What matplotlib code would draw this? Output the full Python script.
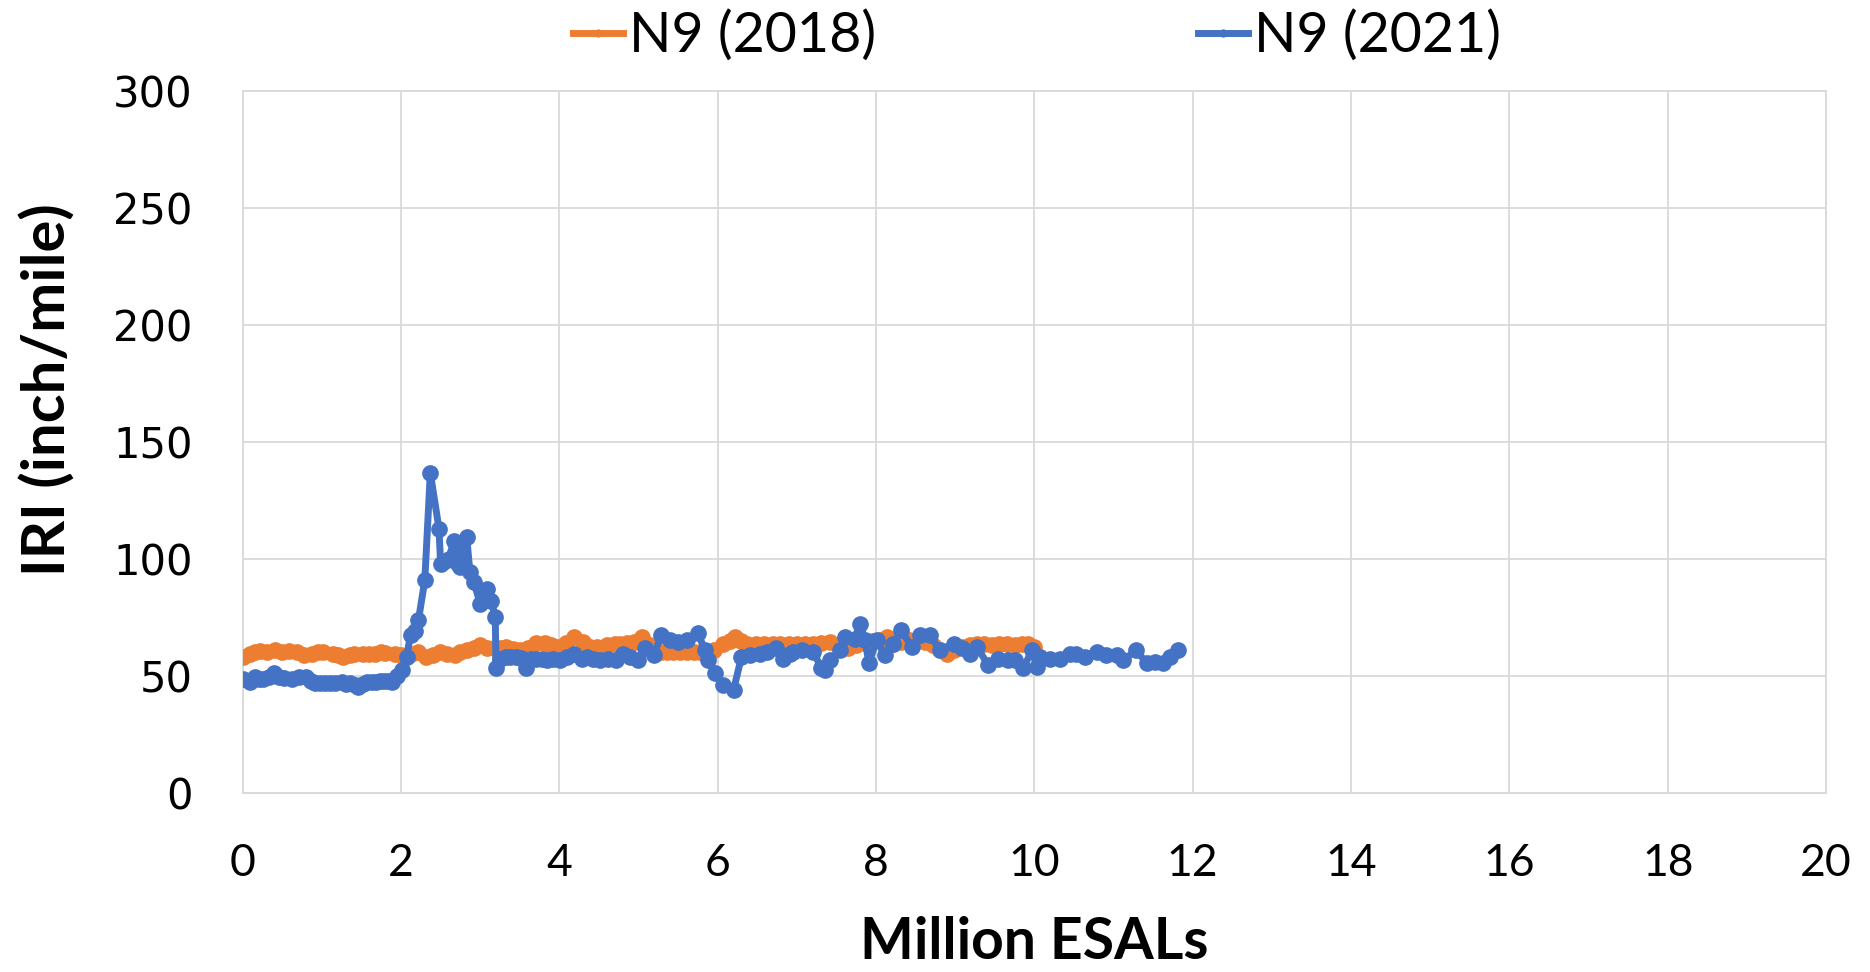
import matplotlib
matplotlib.use("Agg")
import matplotlib.pyplot as plt

# ---- data ----
x_2018 = [0.00, 0.09, 0.16, 0.22, 0.31, 0.41, 0.50, 0.58, 0.68, 0.77, 0.87, 0.95,
          1.02, 1.14, 1.20, 1.27, 1.35, 1.40, 1.52, 1.60, 1.67, 1.75, 1.80, 1.92,
          2.00, 2.12, 2.22, 2.32, 2.40, 2.49, 2.58, 2.68, 2.75, 2.83, 2.92, 3.00,
          3.08, 3.17, 3.25, 3.33, 3.42, 3.50, 3.60, 3.71, 3.82, 3.90, 3.97, 4.08,
          4.18, 4.30, 4.39, 4.47, 4.60, 4.70, 4.77, 4.85, 4.94, 5.04, 5.15, 5.29,
          5.36, 5.44, 5.52, 5.61, 5.70, 5.78, 5.87, 5.95, 6.07, 6.15, 6.22, 6.30,
          6.37, 6.48, 6.59, 6.70, 6.79, 6.90, 7.00, 7.10, 7.21, 7.30, 7.42, 7.52,
          7.64, 7.75, 7.85, 7.95, 8.05, 8.14, 8.22, 8.32, 8.42, 8.52, 8.62, 8.72,
          8.81, 8.90, 8.98, 9.08, 9.19, 9.27, 9.36, 9.46, 9.55, 9.65, 9.75, 9.85,
          9.92, 10.00]
iri_2018 = [58.0, 59.5, 60.0, 60.5, 60.0, 61.0, 60.0, 60.7, 60.3, 58.8, 59.5, 60.0,
            60.3, 59.3, 58.8, 58.1, 59.0, 59.3, 59.3, 59.5, 59.5, 60.0, 59.8, 59.3,
            59.0, 59.5, 60.3, 57.9, 59.0, 60.3, 59.5, 58.7, 60.0, 61.0, 62.0, 63.2,
            62.0, 61.8, 62.0, 62.5, 61.5, 61.0, 62.0, 63.9, 63.9, 63.0, 62.5, 64.0,
            66.7, 64.6, 62.4, 62.5, 63.1, 63.5, 63.8, 64.0, 64.5, 66.6, 63.0, 60.2,
            60.2, 60.2, 60.0, 60.2, 60.2, 60.2, 60.5, 60.9, 63.8, 65.0, 66.6, 65.0,
            63.8, 63.5, 63.8, 63.5, 63.8, 63.8, 63.5, 63.8, 63.8, 64.0, 64.5, 63.0,
            61.7, 63.0, 64.0, 65.0, 65.5, 66.6, 63.8, 64.5, 65.2, 65.0, 64.5, 63.0,
            61.0, 59.5, 61.0, 62.4, 63.1, 63.5, 63.8, 63.1, 63.5, 63.8, 63.1, 63.5,
            63.8, 62.4]

x_2021 = [0.00, 0.09, 0.15, 0.21, 0.26, 0.33, 0.39, 0.46, 0.52, 0.62, 0.71, 0.80,
          0.86, 0.91, 0.98, 1.04, 1.10, 1.16, 1.25, 1.30, 1.35, 1.42, 1.46, 1.52,
          1.57, 1.63, 1.68, 1.73, 1.78, 1.84, 1.89, 1.95, 2.01, 2.07, 2.12, 2.18,
          2.22, 2.30, 2.37, 2.48, 2.50, 2.55, 2.60, 2.67, 2.72, 2.74, 2.77, 2.83,
          2.87, 2.92, 3.00, 3.08, 3.14, 3.19, 3.20, 3.25, 3.32, 3.38, 3.45, 3.52,
          3.58, 3.64, 3.71, 3.78, 3.84, 3.92, 4.01, 4.10, 4.18, 4.28, 4.35, 4.43,
          4.51, 4.62, 4.72, 4.81, 4.89, 4.99, 5.08, 5.19, 5.29, 5.40, 5.50, 5.61,
          5.75, 5.84, 5.88, 5.97, 6.07, 6.20, 6.30, 6.41, 6.53, 6.62, 6.74, 6.83,
          6.91, 6.95, 7.06, 7.21, 7.31, 7.36, 7.42, 7.55, 7.61, 7.73, 7.80, 7.86,
          7.91, 8.01, 8.11, 8.22, 8.32, 8.45, 8.55, 8.68, 8.81, 8.98, 9.08, 9.19,
          9.27, 9.42, 9.54, 9.67, 9.76, 9.86, 9.97, 10.03, 10.07, 10.20, 10.32, 10.45,
          10.53, 10.64, 10.79, 10.91, 11.04, 11.12, 11.29, 11.42, 11.53, 11.63, 11.71, 11.82]
iri_2021 = [48.5, 47.5, 49.3, 48.5, 48.6, 49.5, 51.0, 49.5, 48.9, 48.5, 49.3, 49.6,
            48.0, 47.0, 46.8, 46.8, 47.0, 47.0, 47.5, 46.5, 46.8, 46.0, 45.4, 46.5,
            47.5, 47.5, 47.5, 47.8, 47.9, 47.8, 47.5, 50.0, 52.4, 58.1, 67.4, 69.0,
            73.8, 90.8, 136.7, 112.8, 97.6, 99.0, 100.0, 107.8, 97.9, 96.5, 102.2, 109.3,
            94.3, 90.0, 80.9, 87.3, 82.0, 75.2, 53.2, 57.4, 58.0, 57.9, 58.0, 57.5,
            53.2, 57.0, 57.4, 57.0, 56.7, 57.0, 56.7, 58.0, 59.5, 57.4, 58.0, 57.4,
            56.7, 57.4, 56.7, 59.5, 58.1, 56.7, 61.7, 58.8, 67.4, 65.2, 64.5, 65.2,
            68.3, 60.9, 56.7, 51.0, 46.1, 43.9, 58.1, 58.8, 59.5, 60.2, 61.7, 57.4,
            59.5, 60.2, 60.9, 60.2, 53.2, 52.4, 56.7, 60.9, 66.4, 65.8, 72.3, 65.2,
            55.6, 65.2, 58.8, 63.8, 69.5, 62.4, 67.3, 67.3, 60.9, 63.8, 61.7, 59.5,
            62.4, 54.6, 57.4, 56.7, 56.7, 53.2, 60.9, 53.9, 58.1, 57.4, 57.4, 59.5,
            59.5, 58.1, 60.2, 58.8, 58.8, 56.7, 60.9, 55.3, 56.0, 55.3, 58.1, 60.9]

series_labels = ["N9 (2018)", "N9 (2021)"]
x_ticks = [0, 2, 4, 6, 8, 10, 12, 14, 16, 18, 20]
y_ticks = [0, 50, 100, 150, 200, 250, 300]
x_label = "Million ESALs"
y_label = "IRI (inch/mile)"

# ---- style ----
ORANGE = "#ED7D31"
BLUE = "#4472C4"
GRID = "#D9D9D9"

W, H = 1870, 972
fig = plt.figure(figsize=(W / 100, H / 100), dpi=100)
ax = fig.add_axes([242.7 / W, 1 - 792.8 / H, (1826 - 242.7) / W, (792.8 - 91) / H])

ax.plot(x_2018, iri_2018, color=ORANGE, lw=5.0, marker="o", ms=11,
        label=series_labels[0], zorder=3)
ax.plot(x_2021, iri_2021, color=BLUE, lw=5.0, marker="o", ms=11,
        label=series_labels[1], zorder=4)

ax.set_xlim(0, 20)
ax.set_ylim(0, 300)
ax.set_xticks(x_ticks)
ax.set_yticks(y_ticks)
ax.grid(True, color=GRID, lw=1.3, zorder=0)
ax.set_axisbelow(True)
for s in ax.spines.values():
    s.set_color(GRID)
    s.set_linewidth(1.3)
ax.tick_params(length=0)
ax.tick_params(axis="x", pad=36)
ax.tick_params(axis="y", pad=36)
for t in ax.get_xticklabels():
    t.set_fontfamily("Lato")
    t.set_fontsize(32)
for t in ax.get_yticklabels():
    t.set_fontfamily("DejaVu Sans")
    t.set_fontsize(30)

fig.text((242.7 + 1826) / 2 / W, 1 - 942 / H, x_label, ha="center", va="center",
         fontsize=41, fontweight="bold", family="Lato")
fig.text(48 / W, 1 - 390 / H, y_label, ha="center", va="center", rotation=90,
         fontsize=43, fontweight="bold", family="Lato")

leg = ax.legend(loc="center", bbox_to_anchor=(1037 / W, (H - 36) / H),
                bbox_transform=fig.transFigure,
                ncol=2, frameon=False, prop={"family": "Lato", "size": 40},
                handlelength=0.9, handletextpad=0.1, columnspacing=5.8,
                markerscale=0.45)

fig.savefig("out.png", dpi=100)
